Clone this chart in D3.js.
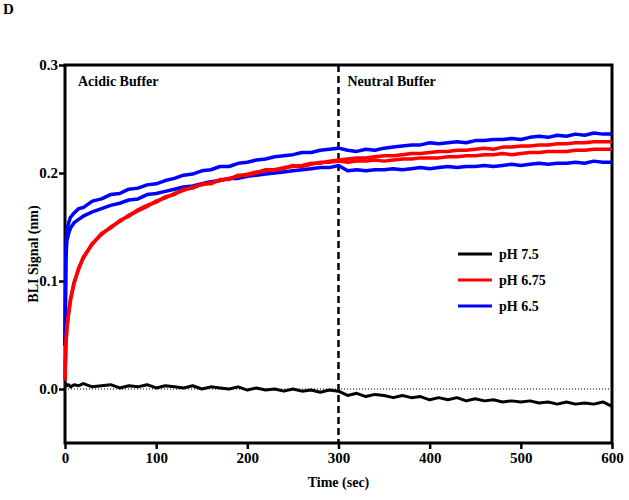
<!DOCTYPE html>
<html>
<head>
<meta charset="utf-8">
<script src="https://cdn.jsdelivr.net/npm/d3@7"></script>
<style>
	body { margin: 0; background: #fff; }
	text { font-family: "Liberation Serif", "Times New Roman", serif; font-weight: bold; }
</style>
</head>
<body>
<div id="chart"></div>
<script>
	'use strict';

	// time points (sec)
	var times = [0, 1, 2, 4, 6, 10, 15, 20, 30, 40, 50, 60, 70, 80, 90, 100,
		110, 120, 130, 140, 150, 160, 170, 180, 190, 200, 210, 220, 230, 240, 250,
		260, 270, 280, 290, 300, 310, 320, 330, 340, 350, 360, 370, 380, 390, 400,
		410, 420, 430, 440, 450, 460, 470, 480, 490, 500, 510, 520, 530, 540, 550,
		560, 570, 580, 590, 600];

	var ph75 = [0.004, 0.005, 0.003, 0.004, 0.002, 0.004, 0.003, 0.005, 0.002, 0.003,
		0.004, 0.001, 0.003, 0.002, 0.004, 0.001, 0.003, 0.002, 0.001, 0.003,
		0.000, 0.002, 0.001, 0.000, 0.002, -0.001, 0.001, -0.001, 0.000, -0.002,
		0.000, -0.002, -0.001, -0.003, -0.001, -0.002, -0.006, -0.004, -0.007, -0.005,
		-0.006, -0.008, -0.006, -0.008, -0.007, -0.010, -0.008, -0.010, -0.008, -0.011,
		-0.009, -0.011, -0.010, -0.012, -0.011, -0.012, -0.011, -0.013, -0.012, -0.014,
		-0.012, -0.014, -0.013, -0.014, -0.012, -0.016];

	var ph675a = [0.008, 0.040, 0.055, 0.070, 0.082, 0.098, 0.112, 0.121, 0.135, 0.143, 0.150, 0.155, 0.161, 0.165, 0.169, 0.174,
		0.177, 0.181, 0.184, 0.187, 0.189, 0.191, 0.193, 0.195, 0.197, 0.199, 0.201, 0.202, 0.203, 0.205, 0.206,
		0.207, 0.209, 0.209, 0.211, 0.212, 0.213, 0.214, 0.214, 0.215, 0.216, 0.216, 0.217, 0.218, 0.218, 0.219,
		0.220, 0.220, 0.221, 0.221, 0.222, 0.223, 0.222, 0.224, 0.224, 0.225, 0.225, 0.226, 0.226, 0.227, 0.227,
		0.228, 0.228, 0.229, 0.229, 0.229];

	var ph675b = [0.008, 0.041, 0.056, 0.071, 0.083, 0.099, 0.111, 0.122, 0.134, 0.144, 0.149, 0.156, 0.160, 0.166, 0.170, 0.173,
		0.178, 0.180, 0.185, 0.186, 0.190, 0.190, 0.194, 0.194, 0.198, 0.198, 0.200, 0.203, 0.203, 0.204, 0.207,
		0.206, 0.208, 0.210, 0.210, 0.211, 0.210, 0.211, 0.211, 0.212, 0.211, 0.212, 0.213, 0.213, 0.214, 0.214,
		0.214, 0.215, 0.215, 0.216, 0.216, 0.217, 0.217, 0.218, 0.217, 0.218, 0.219, 0.219, 0.220, 0.220, 0.220,
		0.221, 0.221, 0.222, 0.222, 0.222];

	var ph65a = [0.040, 0.130, 0.147, 0.154, 0.159, 0.163, 0.167, 0.168, 0.174, 0.176, 0.180, 0.181, 0.185, 0.186, 0.189, 0.190,
		0.193, 0.195, 0.198, 0.199, 0.202, 0.203, 0.206, 0.206, 0.209, 0.210, 0.212, 0.213, 0.215, 0.216, 0.217,
		0.219, 0.219, 0.221, 0.222, 0.223, 0.221, 0.220, 0.222, 0.221, 0.223, 0.224, 0.225, 0.226, 0.226, 0.228,
		0.227, 0.228, 0.229, 0.228, 0.230, 0.230, 0.231, 0.231, 0.232, 0.231, 0.233, 0.234, 0.233, 0.235, 0.234,
		0.236, 0.235, 0.237, 0.236, 0.236];

	var ph65b = [0.040, 0.118, 0.137, 0.144, 0.149, 0.154, 0.157, 0.160, 0.164, 0.167, 0.170, 0.172, 0.175, 0.176, 0.180, 0.181,
		0.183, 0.185, 0.187, 0.188, 0.190, 0.192, 0.193, 0.195, 0.195, 0.197, 0.198, 0.199, 0.200, 0.201, 0.202,
		0.203, 0.204, 0.205, 0.205, 0.207, 0.202, 0.203, 0.202, 0.203, 0.203, 0.204, 0.203, 0.204, 0.205, 0.204,
		0.205, 0.206, 0.205, 0.206, 0.206, 0.207, 0.206, 0.207, 0.208, 0.207, 0.208, 0.209, 0.208, 0.209, 0.209,
		0.210, 0.209, 0.211, 0.210, 0.210];

	var legendLabels = ["pH 7.5", "pH 6.75", "pH 6.5"];
	var legendColors = ["#000000", "#ff0000", "#0000ff"];
	var xTicks = [0, 100, 200, 300, 400, 500, 600];
	var yTicks = [0.0, 0.1, 0.2, 0.3];

	var margin = { top: 65, right: 17, bottom: 57, left: 65 };
	var width = 629 - margin.left - margin.right;
	var height = 500 - margin.top - margin.bottom;

	var svg = d3.select("#chart").append("svg")
		.attr("width", 629)
		.attr("height", 500);

	var g = svg.append("g")
		.attr("transform", "translate(" + margin.left + "," + margin.top + ")");

	var x = d3.scaleLinear().domain([0, 600]).range([0, width]);
	var y = d3.scaleLinear().domain([-0.05, 0.3]).range([height, 0]);

	// panel letter
	svg.append("text")
		.attr("x", 3)
		.attr("y", 14)
		.attr("font-size", "15px")
		.text("D");

	// axes
	var yAxis = g.append("g")
		.call(d3.axisLeft(y).tickValues(yTicks).tickSize(6).tickSizeOuter(0).tickFormat(d3.format(".1f")));
	var xAxis = g.append("g")
		.attr("transform", "translate(0," + height + ")")
		.call(d3.axisBottom(x).tickValues(xTicks).tickSize(6).tickSizeOuter(0));

	[xAxis, yAxis].forEach(function (a) {
		a.select(".domain").remove();
		a.selectAll(".tick line").attr("stroke", "#000").attr("stroke-width", 2.5);
		a.selectAll(".tick text")
			.attr("fill", "#000")
			.attr("font-size", "15px")
			.attr("font-family", "Liberation Serif, Times New Roman, serif")
			.attr("font-weight", "bold");
	});
	yAxis.selectAll(".tick text").attr("x", -7);
	xAxis.selectAll(".tick text").attr("y", 9);

	// frame
	g.append("rect")
		.attr("width", width)
		.attr("height", height)
		.attr("fill", "none")
		.attr("stroke", "#000")
		.attr("stroke-width", 3);

	// zero baseline (dotted)
	g.append("line")
		.attr("x1", x(0)).attr("x2", x(600))
		.attr("y1", y(0)).attr("y2", y(0))
		.attr("stroke", "#000")
		.attr("stroke-width", 1)
		.attr("stroke-dasharray", "1,2");

	// buffer switch
	g.append("line")
		.attr("x1", x(300)).attr("x2", x(300))
		.attr("y1", 0).attr("y2", height)
		.attr("stroke", "#000")
		.attr("stroke-width", 2.5)
		.attr("stroke-dasharray", "7,4");

	g.append("text").attr("x", 13).attr("y", 21).attr("font-size", "14px").text("Acidic Buffer");
	g.append("text").attr("x", x(300) + 9).attr("y", 21).attr("font-size", "14px").text("Neutral Buffer");

	var line = d3.line()
		.x(function (d) { return x(d[0]); })
		.y(function (d) { return y(d[1]); });

	var series = [
		{ values: ph75, color: "#000000", w: 3 },
		{ values: ph65a, color: "#0000ff", w: 3.5 },
		{ values: ph65b, color: "#0000ff", w: 3.5 },
		{ values: ph675a, color: "#ff0000", w: 3.5 },
		{ values: ph675b, color: "#ff0000", w: 3.5 }
	];

	g.selectAll("path.trace")
		.data(series)
		.enter()
		.append("path")
		.attr("class", "trace")
		.attr("fill", "none")
		.attr("stroke", function (d) { return d.color; })
		.attr("stroke-width", function (d) { return d.w; })
		.attr("stroke-linejoin", "round")
		.attr("d", function (d) {
			return line(times.map(function (t, i) { return [t, d.values[i]]; }));
		});

	// legend
	var legend = g.selectAll("g.legend")
		.data(legendLabels)
		.enter()
		.append("g")
		.attr("class", "legend")
		.attr("transform", function (d, i) {
			return "translate(" + (458 - margin.left) + "," + (254 + i * 26 - margin.top) + ")";
		});
	legend.append("line")
		.attr("x1", 0).attr("x2", 34)
		.attr("stroke", function (d, i) { return legendColors[i]; })
		.attr("stroke-width", 3);
	legend.append("text")
		.attr("x", 41)
		.attr("y", 5)
		.attr("font-size", "14px")
		.text(function (d) { return d; });

	// axis titles
	svg.append("text")
		.attr("x", margin.left + width / 2)
		.attr("y", 487)
		.attr("text-anchor", "middle")
		.attr("font-size", "14px")
		.text("Time (sec)");
	svg.append("text")
		.attr("transform", "translate(38," + (margin.top + height / 2) + ") rotate(-90)")
		.attr("text-anchor", "middle")
		.attr("font-size", "14px")
		.text("BLI Signal (nm)");
</script>
</body>
</html>
